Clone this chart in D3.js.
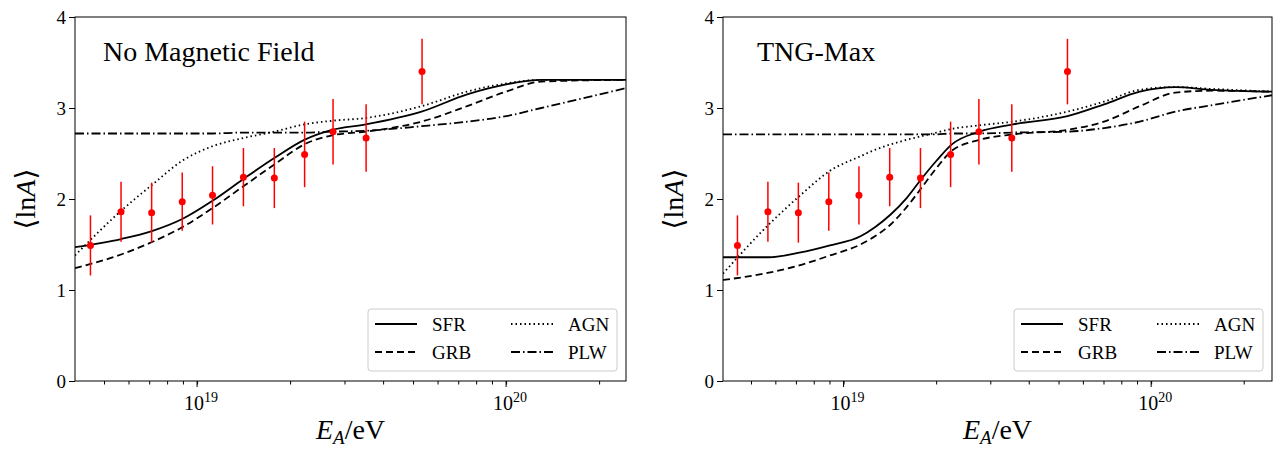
<!DOCTYPE html>
<html><head><meta charset="utf-8">
<script src="https://cdn.jsdelivr.net/npm/d3@7"></script>
<style>
body{margin:0;background:#fff}
</style></head>
<body><svg id="chart" width="1273" height="450"></svg>
<script>
// data points (log10 E, <lnA>, error)
let dataLogE = [18.655, 18.754, 18.853, 18.952, 19.05, 19.15, 19.25, 19.348, 19.44, 19.547, 19.728];
let dataLnA = [1.49, 1.86, 1.85, 1.97, 2.04, 2.24, 2.23, 2.49, 2.74, 2.67, 3.40];
let dataErr = [0.33, 0.33, 0.33, 0.32, 0.32, 0.32, 0.33, 0.36, 0.36, 0.37, 0.36];

// model curves, No Magnetic Field
let noB_logE = [18.605, 18.754, 18.856, 18.952, 19.05, 19.15, 19.25, 19.347, 19.437, 19.546, 19.726, 19.874, 20.0, 20.114, 20.39];
let noB_SFR = [1.47, 1.56, 1.65, 1.78, 1.98, 2.22, 2.45, 2.65, 2.76, 2.82, 2.96, 3.15, 3.26, 3.31, 3.31];
let noB_GRB = [1.24, 1.39, 1.53, 1.69, 1.90, 2.14, 2.38, 2.60, 2.70, 2.74, 2.85, 3.02, 3.18, 3.29, 3.31];
let noB_AGN = [1.38, 1.87, 2.16, 2.42, 2.58, 2.67, 2.74, 2.82, 2.86, 2.89, 3.02, 3.18, 3.27, 3.31, 3.31];
let noB_PLW = [2.72, 2.72, 2.72, 2.72, 2.72, 2.73, 2.73, 2.73, 2.74, 2.75, 2.80, 2.85, 2.91, 3.00, 3.22];

// model curves, TNG-Max
let tng_logE = [18.608, 18.757, 18.856, 18.956, 19.055, 19.102, 19.153, 19.205, 19.253, 19.302, 19.352, 19.442, 19.55, 19.728, 19.847, 19.963, 20.079, 20.195, 20.393];
let tng_SFR = [1.36, 1.36, 1.41, 1.49, 1.59, 1.69, 1.83, 2.01, 2.22, 2.42, 2.60, 2.74, 2.82, 2.91, 3.04, 3.18, 3.23, 3.20, 3.18];
let tng_GRB = [1.11, 1.19, 1.27, 1.38, 1.50, 1.59, 1.72, 1.91, 2.12, 2.34, 2.53, 2.65, 2.71, 2.76, 2.85, 3.02, 3.17, 3.19, 3.18];
let tng_AGN = [1.18, 1.72, 2.03, 2.31, 2.47, 2.54, 2.60, 2.65, 2.69, 2.73, 2.77, 2.81, 2.85, 2.96, 3.07, 3.20, 3.23, 3.21, 3.18];
let tng_PLW = [2.71, 2.71, 2.71, 2.71, 2.71, 2.71, 2.71, 2.71, 2.71, 2.71, 2.72, 2.72, 2.73, 2.74, 2.78, 2.85, 2.96, 3.03, 3.14];

let yTicks = [0, 1, 2, 3, 4];
let legendNames = ["SFR", "GRB", "AGN", "PLW"];
let dashes = {SFR: null, GRB: "7,4", AGN: "1.5,3", PLW: "9,3,1.5,3"};
let serif = "'Liberation Serif', 'DejaVu Serif', serif";

let svg = d3.select("#chart");

let panels = [
  {title: "No Magnetic Field", x0: 75, x1: 626, dom: [18.605, 20.388], logE: noB_logE,
   series: {SFR: noB_SFR, GRB: noB_GRB, AGN: noB_AGN, PLW: noB_PLW}, tx: 103},
  {title: "TNG-Max", x0: 723, x1: 1272, dom: [18.608, 20.393], logE: tng_logE,
   series: {SFR: tng_SFR, GRB: tng_GRB, AGN: tng_AGN, PLW: tng_PLW}, tx: 757}
];

let yTop = 17, yBottom = 381;

panels.forEach(function (p) {
  let x = d3.scaleLog().domain([Math.pow(10, p.dom[0]), Math.pow(10, p.dom[1])]).range([p.x0, p.x1]);
  let y = d3.scaleLinear().domain([0, 4]).range([yBottom, yTop]);
  let g = svg.append("g");

  //axes
  let xAxis = d3.axisBottom(x).tickSizeOuter(0).tickSize(3.5)
    .tickFormat("");
  g.append("g").attr("transform", `translate(0,${yBottom})`).call(xAxis);
  let major = [1e19, 1e20];
  major.forEach(function (v) {
    g.append("line").attr("x1", x(v)).attr("x2", x(v)).attr("y1", yBottom).attr("y2", yBottom + 6).attr("stroke", "#000");
    let t = g.append("text").attr("x", x(v) + 4).attr("y", yBottom + 29).attr("text-anchor", "middle").attr("font-size", 20);
    t.append("tspan").text("10");
    t.append("tspan").attr("font-size", 14).attr("dy", -8).text(Math.round(Math.log10(v)));
  });
  g.append("g").attr("transform", `translate(${p.x0},0)`)
    .call(d3.axisLeft(y).tickValues(yTicks).tickSize(6).tickSizeOuter(0).tickFormat(d3.format("d")))
    .call(s => s.selectAll("text").attr("font-size", 19));
  g.selectAll(".domain").remove();
  g.append("rect").attr("x", p.x0).attr("y", yTop).attr("width", p.x1 - p.x0).attr("height", yBottom - yTop)
    .attr("fill", "none").attr("stroke", "#000").attr("stroke-width", 1);

  let clip = "clip" + p.x0;
  svg.append("clipPath").attr("id", clip).append("rect").attr("x", p.x0).attr("y", yTop).attr("width", p.x1 - p.x0).attr("height", yBottom - yTop);
  let plot = g.append("g").attr("clip-path", `url(#${clip})`);

  let line = d3.line().x((d, i) => x(Math.pow(10, p.logE[i]))).y(d => y(d)).curve(d3.curveMonotoneX);
  legendNames.forEach(function (n) {
    plot.append("path").datum(p.series[n]).attr("d", line).attr("fill", "none")
      .attr("stroke", "#000").attr("stroke-width", 1.8).attr("stroke-dasharray", dashes[n]);
  });

  // data points
  dataLogE.forEach(function (le, i) {
    let cx = x(Math.pow(10, le));
    plot.append("line").attr("x1", cx).attr("x2", cx)
      .attr("y1", y(dataLnA[i] - dataErr[i])).attr("y2", y(dataLnA[i] + dataErr[i]))
      .attr("stroke", "red").attr("stroke-width", 1.5);
    plot.append("circle").attr("cx", cx).attr("cy", y(dataLnA[i])).attr("r", 3.5).attr("fill", "red");
  });

  g.append("text").attr("x", p.tx).attr("y", 61).attr("font-size", 28).text(p.title);

  // legend
  let lx = p.x1 - 258, ly = 309;
  g.append("rect").attr("x", lx).attr("y", ly).attr("width", 249).attr("height", 62).attr("rx", 3)
    .attr("fill", "#fff").attr("stroke", "#ccc");
  legendNames.forEach(function (n, i) {
    let col = Math.floor(i / 2), row = i % 2;
    let sx = lx + 7 + col * 136, sy = ly + 15 + row * 28;
    g.append("line").attr("x1", sx).attr("x2", sx + 42).attr("y1", sy).attr("y2", sy)
      .attr("stroke", "#000").attr("stroke-width", 1.8).attr("stroke-dasharray", dashes[n]);
    g.append("text").attr("x", sx + 57).attr("y", sy + 7).attr("font-size", 19).text(n);
  });

  // axis labels
  let xl = g.append("text").attr("x", (p.x0 + p.x1) / 2).attr("y", 439).attr("text-anchor", "middle").attr("font-size", 28);
  xl.append("tspan").attr("font-style", "italic").text("E");
  xl.append("tspan").attr("font-style", "italic").attr("font-size", 19).attr("dy", 5).text("A");
  xl.append("tspan").attr("dy", -5).text("/eV");
  let yl = g.append("text").attr("transform", `translate(${p.x0 - 40},${(yTop + yBottom) / 2}) rotate(-90)`)
    .attr("text-anchor", "middle").attr("font-size", 28);
  yl.append("tspan").text("⟨ln");
  yl.append("tspan").attr("font-style", "italic").text("A");
  yl.append("tspan").text("⟩");
});

svg.selectAll("text").attr("font-family", serif).style("font-family", serif).attr("fill", "#000");
</script></body></html>
